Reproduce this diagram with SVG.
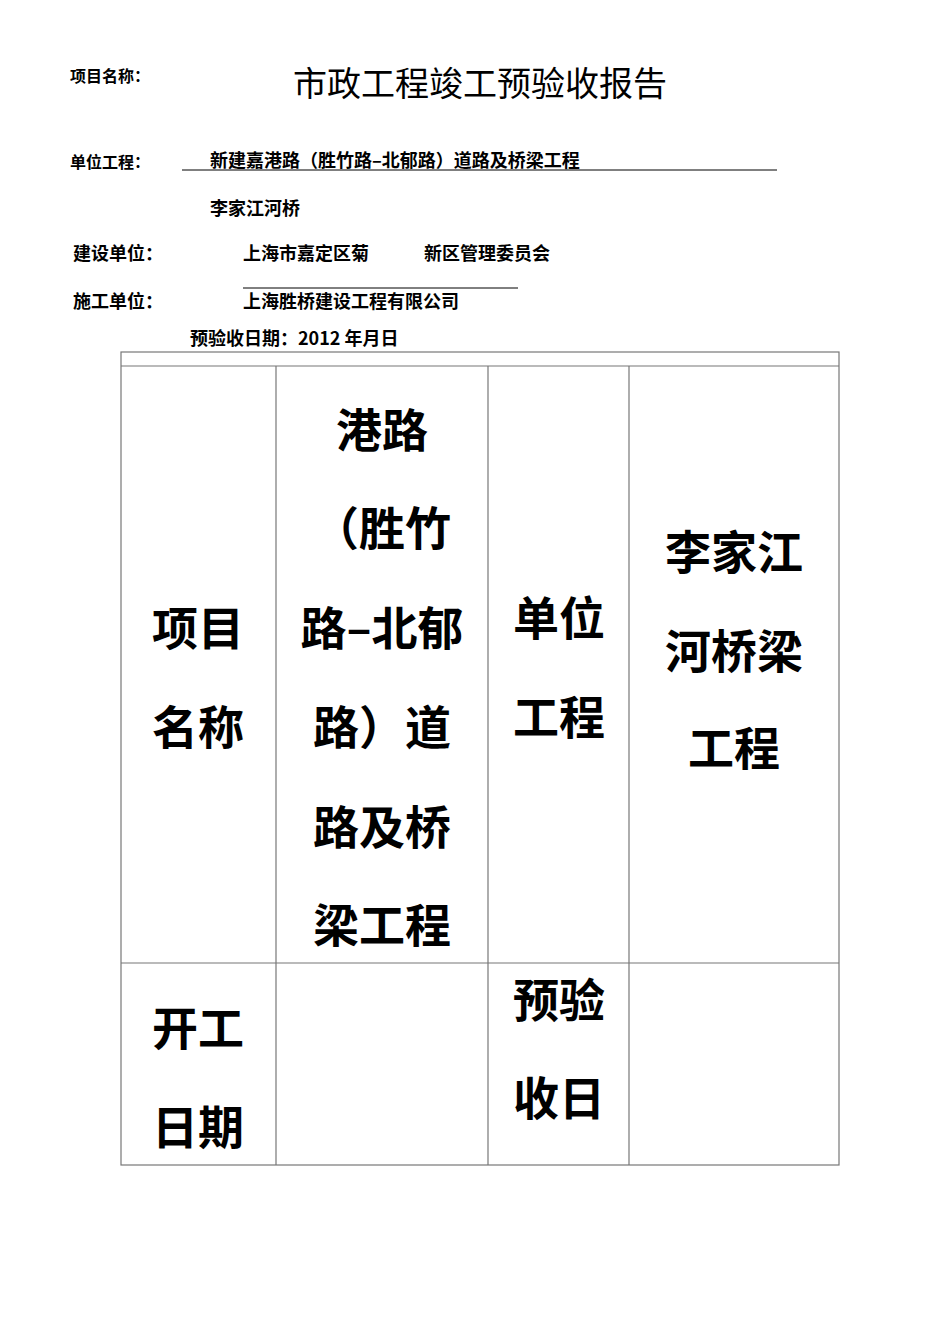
<svg xmlns="http://www.w3.org/2000/svg" width="950" height="1344" viewBox="0 0 950 1344">
<style>
text{font-family:"Noto Sans CJK SC","Liberation Sans",sans-serif;fill:#000}
.s{font-size:18px;font-weight:bold}
.b{font-size:46px;font-weight:bold;text-anchor:middle}
.l{stroke:#000;stroke-width:1;fill:none}
.t{stroke:#777;stroke-width:1.2;fill:none}
</style>
<rect width="950" height="1344" fill="#fff"/>
<g id="header">
<text x="70" y="82" style="font-size:16px;font-weight:bold">项目名称：</text>
<text x="480" y="96" style="font-size:34px;text-anchor:middle">市政工程竣工预验收报告</text>
<text x="70" y="168" style="font-size:16px;font-weight:bold">单位工程：</text>
<text x="210" y="167" class="s">新建嘉港路（胜竹路–北郁路）道路及桥梁工程</text>
<line x1="182" y1="170" x2="777" y2="170" class="l"/>
<text x="210" y="215" class="s">李家江河桥</text>
<text x="73" y="260" class="s">建设单位：</text>
<text x="243" y="260" class="s">上海市嘉定区菊</text>
<text x="424" y="260" class="s">新区管理委员会</text>
<line x1="243" y1="288" x2="518" y2="288" class="l"/>
<text x="73" y="308" class="s">施工单位：</text>
<text x="243" y="308" class="s">上海胜桥建设工程有限公司</text>
<text x="190" y="345" class="s">预验收日期：2012 年月日</text>
</g>
<g id="table">
<rect x="121" y="352" width="718" height="813" class="t"/>
<line x1="121" y1="366" x2="839" y2="366" class="t"/>
<line x1="121" y1="963" x2="839" y2="963" class="t"/>
<line x1="276" y1="366" x2="276" y2="1165" class="t"/>
<line x1="488" y1="366" x2="488" y2="1165" class="t"/>
<line x1="629" y1="366" x2="629" y2="1165" class="t"/>
</g>
<g id="cells">
<text x="198" y="645" class="b">项目</text>
<text x="198" y="744" class="b">名称</text>
<text x="382" y="447" class="b">港路</text>
<text x="382" y="545" class="b">（胜竹</text>
<text x="382" y="645" class="b">路–北郁</text>
<text x="382" y="744" class="b">路）道</text>
<text x="382" y="844" class="b">路及桥</text>
<text x="382" y="942" class="b">梁工程</text>
<text x="559" y="635" class="b">单位</text>
<text x="559" y="734" class="b">工程</text>
<text x="734" y="569" class="b">李家江</text>
<text x="734" y="668" class="b">河桥梁</text>
<text x="734" y="765" class="b">工程</text>
<text x="198" y="1045" class="b">开工</text>
<text x="198" y="1144" class="b">日期</text>
<text x="559" y="1017" class="b">预验</text>
<text x="559" y="1115" class="b">收日</text>
</g>
</svg>
